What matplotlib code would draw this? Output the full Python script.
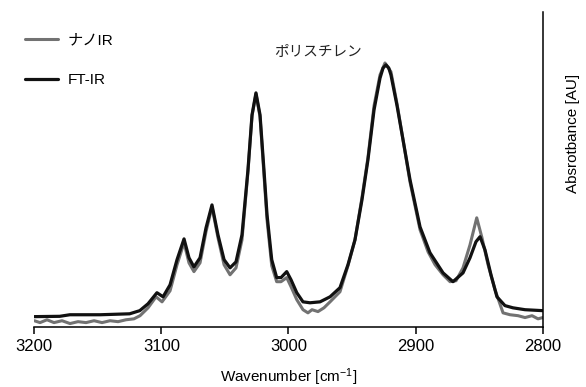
import numpy as np
import matplotlib
matplotlib.use("Agg")
import matplotlib.pyplot as plt

plt.rcParams['font.family'] = ['Liberation Sans', 'Noto Sans CJK JP', 'DejaVu Sans']
plt.rcParams['mathtext.fontset'] = 'custom'
plt.rcParams['mathtext.rm'] = 'Liberation Sans'
plt.rcParams['mathtext.it'] = 'Liberation Sans:italic'

# FT-IR spectrum (black)
ftir_wn = [3200, 3180, 3172, 3148, 3125, 3117, 3110.5, 3103.5, 3098.7, 3093.2,
           3087.7, 3082.2, 3078.3, 3074.4, 3069.6, 3064.9, 3060.2, 3055.5, 3050.7, 3046,
           3041.3, 3036.6, 3031.9, 3028.7, 3025.6, 3022.4, 3019.3, 3016.9, 3013.2, 3009.3,
           3005.9, 3001.4, 2998, 2993.5, 2988.6, 2983.1, 2975.2, 2967.3, 2959.5, 2953.2,
           2947.7, 2942.2, 2937.5, 2932.7, 2928, 2925.6, 2923.3, 2921.1, 2919.4, 2914.6,
           2909.9, 2904.4, 2896.5, 2888.7, 2878.4, 2870.6, 2862.7, 2857.2, 2852.5, 2849.3,
           2845.4, 2840.7, 2836, 2829.7, 2823.4, 2813.9, 2800]
ftir_abs = [0.032, 0.033, 0.038, 0.038, 0.041, 0.051, 0.073, 0.108, 0.095, 0.133,
            0.213, 0.279, 0.219, 0.190, 0.219, 0.314, 0.387, 0.292, 0.213, 0.187,
            0.206, 0.292, 0.498, 0.673, 0.743, 0.673, 0.498, 0.356, 0.213, 0.156,
            0.156, 0.175, 0.149, 0.108, 0.079, 0.076, 0.079, 0.095, 0.124, 0.197,
            0.276, 0.403, 0.530, 0.689, 0.790, 0.822, 0.832, 0.822, 0.800, 0.702,
            0.594, 0.467, 0.317, 0.235, 0.171, 0.143, 0.171, 0.219, 0.270, 0.286,
            0.244, 0.165, 0.095, 0.067, 0.060, 0.054, 0.051]

# nano-IR spectrum (gray)
nano_wn = [3200, 3195.5, 3190, 3184.5, 3178.2, 3171.9, 3165.6, 3159.3, 3153, 3146.7,
           3140.4, 3134.1, 3127.9, 3121.6, 3116.8, 3110.5, 3104.2, 3099.5, 3093.2, 3087.7,
           3082.2, 3078.3, 3074.4, 3069.6, 3064.9, 3060.2, 3055.5, 3050.7, 3046, 3041.3,
           3036.6, 3031.9, 3028.7, 3025.6, 3022.4, 3019.3, 3016.9, 3013.2, 3009.3, 3005.9,
           3001.4, 2998, 2993.5, 2988.6, 2984.7, 2981.5, 2976.8, 2972.1, 2967.3, 2959.5,
           2953.2, 2947.7, 2942.2, 2937.5, 2932.7, 2928, 2924.1, 2919.4, 2914.6, 2909.9,
           2904.4, 2896.5, 2890.2, 2884.7, 2878.4, 2872.9, 2868.2, 2862.7, 2857.2, 2851.9,
           2847.8, 2843, 2837.5, 2831.2, 2825.7, 2819.4, 2813.9, 2808.4, 2803.7, 2800]
nano_abs = [0.019, 0.013, 0.022, 0.013, 0.019, 0.010, 0.016, 0.013, 0.019, 0.013,
            0.019, 0.016, 0.022, 0.025, 0.035, 0.060, 0.095, 0.079, 0.114, 0.197,
            0.267, 0.203, 0.175, 0.203, 0.302, 0.381, 0.283, 0.197, 0.165, 0.187,
            0.276, 0.492, 0.670, 0.740, 0.667, 0.483, 0.340, 0.194, 0.143, 0.143,
            0.156, 0.127, 0.086, 0.054, 0.044, 0.054, 0.048, 0.060, 0.079, 0.111,
            0.194, 0.276, 0.410, 0.537, 0.702, 0.800, 0.838, 0.810, 0.708, 0.594,
            0.460, 0.308, 0.238, 0.197, 0.165, 0.143, 0.146, 0.187, 0.260, 0.346,
            0.283, 0.197, 0.117, 0.044, 0.038, 0.035, 0.029, 0.035, 0.025, 0.029]

x_ticks = [3200, 3100, 3000, 2900, 2800]

W, H = 586, 387
fig = plt.figure(figsize=(W / 100, H / 100), dpi=100)
ax = fig.add_axes([34.3 / W, 1 - 326.7 / H, (542.7 - 34.3) / W, (326.7 - 12) / H])

line_kw = dict(solid_joinstyle='round', solid_capstyle='round')
ax.plot(nano_wn, nano_abs, color='#727272', lw=2.2, label='ナノIR', **line_kw)
ax.plot(ftir_wn, ftir_abs, color='#111111', lw=2.3, label='FT-IR', **line_kw)

ax.set_xlim(3200, 2800)
ax.set_ylim(0, 1)
ax.set_xticks(x_ticks)
ax.set_yticks([])
ax.tick_params(axis='x', direction='out', length=5, width=1.1, labelsize=12, pad=4)
for s in ['top', 'left']:
    ax.spines[s].set_visible(False)
for s in ['bottom', 'right']:
    ax.spines[s].set_linewidth(1.1)

ax.set_xlabel('Wavenumber [cm$^{-1}$]', fontsize=11, labelpad=8.5)

fig.text(573 / W, 1 - 133 / H, 'Absrotbance [AU]', rotation=90, fontsize=11,
         ha='center', va='center')
fig.text(318 / W, 1 - 51.7 / H, 'ポリスチレン', fontsize=10.5,
         ha='center', va='center', color='#222222')

ax.legend(loc='upper left', bbox_to_anchor=(25 / W, 1 - 33 / H),
          bbox_transform=fig.transFigure, frameon=False, fontsize=11,
          handlelength=2.15, handletextpad=0.65, labelspacing=1.7,
          borderpad=0, borderaxespad=0)

fig.savefig('out.png', dpi=100)
